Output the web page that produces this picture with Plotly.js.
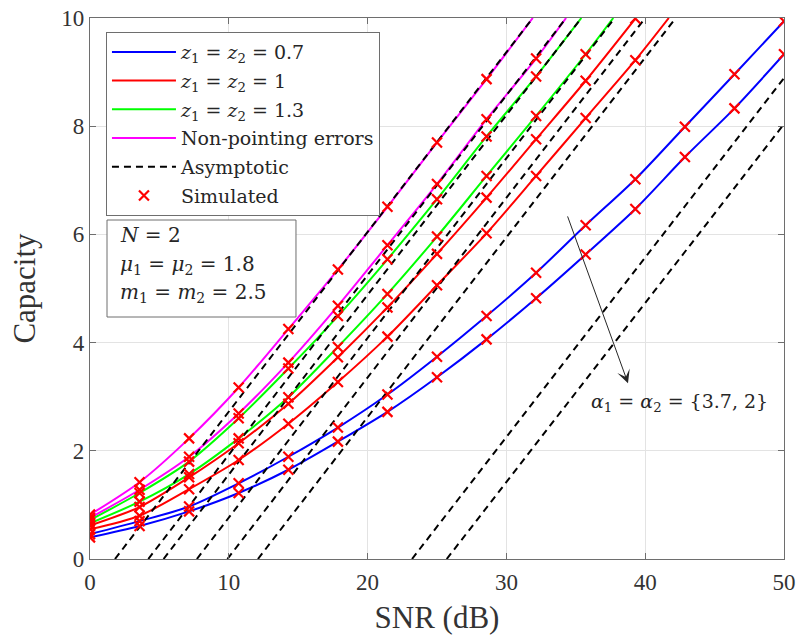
<!DOCTYPE html>
<html>
<head>
<meta charset="utf-8">
<script src="https://cdn.plot.ly/plotly-3.0.1.min.js"></script>
<style>
html,body{margin:0;padding:0;background:#fff;}
#chart{width:800px;height:635px;}
</style>
</head>
<body>
<div id="chart"></div>
<script>
// Simulation SNR points (dB)
const snr = [0, 3.57, 7.14, 10.71, 14.29, 17.86, 21.43, 25, 28.57, 32.14, 35.71, 39.29, 42.86, 46.43, 50];

// Capacity values (null = above the plotted range)
const blueA37  = [0.46, 0.70, 0.97, 1.40, 1.89, 2.43, 3.04, 3.74, 4.49, 5.29, 6.17, 7.02, 7.99, 8.96, 9.94];
const blueA2   = [0.40, 0.61, 0.88, 1.22, 1.65, 2.17, 2.72, 3.36, 4.06, 4.82, 5.63, 6.47, 7.43, 8.33, 9.33];
const redA37   = [0.62, 0.96, 1.51, 2.14, 2.87, 3.73, 4.65, 5.64, 6.68, 7.76, 8.84, 9.99, null, null, null];
const redA2    = [0.55, 0.80, 1.29, 1.83, 2.50, 3.27, 4.11, 5.06, 6.02, 7.08, 8.15, 9.22, null, null, null];
const greenA37 = [0.72, 1.22, 1.80, 2.60, 3.52, 4.49, 5.54, 6.65, 7.81, 8.92, null, null, null, null, null];
const greenA2  = [0.66, 1.06, 1.57, 2.23, 2.99, 3.92, 4.90, 5.96, 7.08, 8.19, 9.33, null, null, null, null];
const npeA37   = [0.82, 1.42, 2.23, 3.17, 4.25, 5.35, 6.51, 7.70, 8.87, null, null, null, null, null, null];
const npeA2    = [0.76, 1.28, 1.89, 2.69, 3.63, 4.68, 5.80, 6.93, 8.13, 9.25, null, null, null, null, null];

// SNR where each analytical curve leaves the top of the plot (y = 10)
const topBlueA37 = null, topBlueA2 = null;
const topRedA37 = null, topRedA2 = 41.7;
const topGreenA37 = 35.4, topGreenA2 = 37.7;
const topNpeA37 = 31.9, topNpeA2 = 34.3;

// Asymptotic lines: start at capacity 0, end point
const asymStartX = [1.8, 4.2, 5.3, 7.7, 9.9, 12.1, 23.2, 25.7];
const asymEndX   = [31.9, 34.3, 35.4, 37.8, 40.0, 42.2, 50, 50];
const asymEndY   = [10, 10, 10, 10, 10, 10, 8.89, 8.04];

// Axis ticks
const xTicks = [0, 10, 20, 30, 40, 50];
const yTicks = [0, 2, 4, 6, 8, 10];

const legendNames = ['<i>z</i><sub>1</sub> = <i>z</i><sub>2</sub> = 0.7',
                     '<i>z</i><sub>1</sub> = <i>z</i><sub>2</sub> = 1',
                     '<i>z</i><sub>1</sub> = <i>z</i><sub>2</sub> = 1.3',
                     'Non-pointing errors', 'Asymptotic', 'Simulated'];

const MATH = 'DejaVu Serif';
const AXF = 'Liberation Serif';

const curves = [
  {y: blueA37, top: topBlueA37, color: '#0000ff', leg: 0},
  {y: blueA2, top: topBlueA2, color: '#0000ff', leg: -1},
  {y: redA37, top: topRedA37, color: '#ff0000', leg: 1},
  {y: redA2, top: topRedA2, color: '#ff0000', leg: -1},
  {y: greenA37, top: topGreenA37, color: '#00ff00', leg: 2},
  {y: greenA2, top: topGreenA2, color: '#00ff00', leg: -1},
  {y: npeA37, top: topNpeA37, color: '#ff00ff', leg: 3},
  {y: npeA2, top: topNpeA2, color: '#ff00ff', leg: -1}
];

const traces = [];
curves.forEach(function(c, i) {
  const xs = [], ys = [];
  snr.forEach(function(s, k) { if (c.y[k] !== null) { xs.push(s); ys.push(c.y[k]); } });
  if (c.top !== null) { xs.push(c.top); ys.push(10); }
  const g = Math.floor(i / 2);
  traces.push({
    type: 'scatter', mode: 'lines', x: xs, y: ys,
    line: {color: c.color, width: 2, shape: 'spline', smoothing: 0.8},
    name: legendNames[g],
    showlegend: c.leg >= 0,
    legendgroup: 'g' + g,
    hoverinfo: 'skip'
  });
});
asymStartX.forEach(function(x0, i) {
  traces.push({
    type: 'scatter', mode: 'lines', x: [x0, asymEndX[i]], y: [0, asymEndY[i]],
    line: {color: '#000000', width: 2, dash: '7px,5px'},
    name: legendNames[4], showlegend: i === 0, legendgroup: 'g4', hoverinfo: 'skip'
  });
});
curves.forEach(function(c, i) {
  traces.push({
    type: 'scatter', mode: 'markers', x: snr, y: c.y,
    marker: {symbol: 'x-thin', size: 10, color: '#ff0000', line: {color: '#ff0000', width: 2.2}},
    name: legendNames[5], showlegend: i === 0, legendgroup: 'g5', hoverinfo: 'skip'
  });
});

const axisCommon = {
  showgrid: true, gridcolor: '#e3e3e3', gridwidth: 1, zeroline: false,
  showline: true, linecolor: '#6e6e6e', linewidth: 1.2, mirror: 'ticks',
  ticks: 'inside', ticklen: 6, tickcolor: '#6e6e6e', tickwidth: 1,
  tickfont: {family: AXF, size: 23, color: '#333333'}
};

const layout = {
  width: 800, height: 635,
  margin: {l: 90, r: 16, t: 18, b: 76},
  paper_bgcolor: '#ffffff', plot_bgcolor: '#ffffff',
  font: {family: MATH},
  xaxis: Object.assign({}, axisCommon, {
    range: [0, 50], tickvals: xTicks, ticklabelstandoff: 2,
    title: {text: 'SNR (dB)', font: {family: AXF, size: 31, color: '#333333'}, standoff: 14}
  }),
  yaxis: Object.assign({}, axisCommon, {
    range: [0, 10], tickvals: yTicks,
    title: {text: 'Capacity', font: {family: AXF, size: 31, color: '#333333'}, standoff: 16}
  }),
  legend: {
    x: 0.023, y: 0.974, xanchor: 'left', yanchor: 'top',
    bgcolor: '#ffffff', bordercolor: '#6e6e6e', borderwidth: 1,
    font: {family: MATH, size: 19, color: '#262626'},
    traceorder: 'grouped', tracegroupgap: 1, itemwidth: 64
  },
  shapes: [
    {type: 'rect', xref: 'paper', yref: 'paper', x0: 0.0245, x1: 0.2968, y0: 0.4473, y1: 0.6266,
     line: {color: '#6e6e6e', width: 1}, fillcolor: '#ffffff', layer: 'above'}
  ],
  annotations: [
    {xref: 'paper', yref: 'paper', x: 0.0403, y: 0.598, xanchor: 'left', yanchor: 'middle', showarrow: false,
     text: '<i>N</i> = 2', font: {family: MATH, size: 20, color: '#262626'}},
    {xref: 'paper', yref: 'paper', x: 0.0403, y: 0.5434, xanchor: 'left', yanchor: 'middle', showarrow: false,
     text: '<i>μ</i><sub>1</sub> = <i>μ</i><sub>2</sub> = 1.8', font: {family: MATH, size: 20, color: '#262626'}},
    {xref: 'paper', yref: 'paper', x: 0.0403, y: 0.4917, xanchor: 'left', yanchor: 'middle', showarrow: false,
     text: '<i>m</i><sub>1</sub> = <i>m</i><sub>2</sub> = 2.5', font: {family: MATH, size: 20, color: '#262626'}},
    {xref: 'x', yref: 'y', x: 38.76, y: 3.25, axref: 'x', ayref: 'y', ax: 34.37, ay: 6.36,
     text: '', showarrow: true, arrowhead: 3, arrowsize: 2.2, arrowwidth: 1, arrowcolor: '#262626'},
    {xref: 'x', yref: 'y', x: 42.5, y: 2.9, xanchor: 'center', yanchor: 'middle', showarrow: false,
     text: '<i>α</i><sub>1</sub> = <i>α</i><sub>2</sub> = {3.7, 2}', font: {family: MATH, size: 19, color: '#262626'}}
  ]
};

Plotly.newPlot('chart', traces, layout, {displayModeBar: false, staticPlot: true});
</script>
</body>
</html>
